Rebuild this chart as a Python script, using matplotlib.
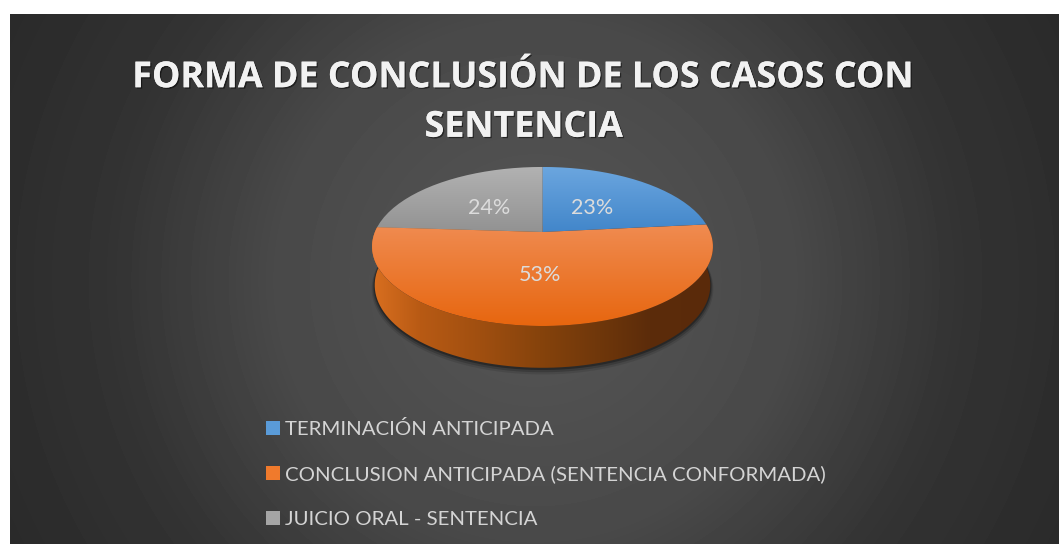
import numpy as np
import matplotlib
matplotlib.use("Agg")
import matplotlib.pyplot as plt
import matplotlib.patheffects as pe
from matplotlib.patches import Patch, PathPatch
from matplotlib.path import Path

categories = ["TERMINACIÓN ANTICIPADA",
              "CONCLUSION ANTICIPADA (SENTENCIA CONFORMADA)",
              "JUICIO ORAL - SENTENCIA"]
values = [23.4, 52.6, 24.0]
pct_labels = ["23%", "53%", "24%"]
title = "FORMA DE CONCLUSIÓN DE LOS CASOS CON\nSENTENCIA"

colors_top = ["#6ba6df", "#f08c52", "#b2b2b2"]
colors_bottom = ["#4286ca", "#e7660f", "#929292"]
legend_colors = ["#5a9bd8", "#f07a2c", "#a5a5a5"]

plt.rcParams['font.family'] = ['Lato', 'DejaVu Sans']

fig = plt.figure(figsize=(10.59, 5.44), dpi=100, facecolor="white")
ax = fig.add_axes([0, 0, 1, 1])
ax.axis("off")

# background, radial grey
xx, yy = np.meshgrid(np.arange(10, 1059), np.arange(14, 544))
dist = np.hypot(xx - 535, yy - 280)
bg = np.interp(dist, [0, 260, 425, 590], [0x56, 0x49, 0x33, 0x2a]) / 255
ax.imshow(bg, cmap="gray", vmin=0, vmax=1, extent=[10, 1059, 544, 14],
          aspect="auto", zorder=0)


def flatten(path):
    # sample the bezier pieces, to_polygons is too coarse here
    pts = []
    for curve, code in path.iter_bezier():
        if code == Path.MOVETO:
            continue
        pts.append(curve(np.linspace(0, 1, 12)))
    return np.vstack(pts)


# let pie work out the wedges, then project them
pie_ax = fig.add_axes([0, 0, 0.1, 0.1])
wedges, _ = pie_ax.pie(values, startangle=90, counterclock=False, radius=1)
unit_polys = [flatten(w.get_patch_transform().transform_path(w.get_path())) for w in wedges]
pie_ax.remove()


def project(p, cx, cy, d, k, c):
    w = 1 + c * p[:, 1]
    return np.column_stack([cx + d * p[:, 0] / w, cy - k * p[:, 1] / w])


def top_face(p):
    return project(p, 542.5, 232, 167.6, 76.9, 0.182)


def bottom_face(p, grow=0):
    return project(p, 542.5, 270 + grow, 165 + grow, 80 + grow, 0.182)


def grad_fill(poly, img, extent, z):
    im = ax.imshow(img, extent=extent, aspect="auto", zorder=z)
    patch = PathPatch(Path(poly), transform=ax.transData, fc="none", ec="none")
    ax.add_patch(patch)
    im.set_clip_path(patch)


def hex_rgb(h):
    return np.array(matplotlib.colors.to_rgb(h))


# side wall comes from the rim of the big slice
rim = unit_polys[1]
rim = rim[np.hypot(rim[:, 0], rim[:, 1]) > 0.99]
side_poly = np.vstack([top_face(rim), bottom_face(rim)[::-1]])

for grow, a in [(3, 0.10), (2, 0.18), (1, 0.3)]:
    ax.fill(*bottom_face(rim, grow).T, color="black", alpha=a, lw=0, zorder=1)

stops_x = np.array([372, 420, 480, 540, 600, 650, 713])
stops_c = np.array([hex_rgb(h) for h in ["#d96f20", "#b85a14", "#a04f10", "#86430c",
                                         "#6f370b", "#5c2c0a", "#5a2a0a"]])
xs = np.linspace(372, 713, 341)
side_img = np.column_stack([np.interp(xs, stops_x, stops_c[:, i]) for i in range(3)])[None, :, :]
grad_fill(side_poly, side_img, [372, 713, 370, 220], 2)

# top face with vertical gradients
ys = {0: (167, 232), 1: (222, 326), 2: (167, 232)}
for i, poly in enumerate(unit_polys):
    y0, y1 = ys[i]
    t = np.linspace(0, 1, 128)[:, None]
    img = (hex_rgb(colors_top[i])[None, :] * (1 - t) + hex_rgb(colors_bottom[i])[None, :] * t)[:, None, :]
    grad_fill(top_face(poly), img, [365, 720, y1, y0], 3 + 0.1 * (i != 1))

# pct labels
for s, x, y in zip(pct_labels, [592, 540, 489], [208, 275, 208]):
    ax.text(x, y, s, color="#dcdcdc", fontsize=15.5, ha="center", va="center", zorder=5)

ax.text(524, 103, title, color="#f2f2f2", fontsize=25.8, fontweight="bold",
        family=["Open Sans", "DejaVu Sans"], ha="center", va="center",
        linespacing=1.5, zorder=5,
        path_effects=[pe.withSimplePatchShadow(offset=(1, -1), shadow_rgbFace="black", alpha=0.5),
                      pe.Normal()])

ax.set_xlim(0, 1059)
ax.set_ylim(544, 0)

handles = [Patch(fc=c, ec="none") for c in legend_colors]
ax.legend(handles, categories, loc="upper left", bbox_to_anchor=(266, 420),
          bbox_transform=ax.transData, frameon=False, fontsize=14.7, labelcolor="#d4d4d4",
          handlelength=0.7, handleheight=0.7, handletextpad=0.25, labelspacing=1.34,
          borderpad=0, borderaxespad=0)

fig.savefig("out.png", dpi=100, facecolor="white")
